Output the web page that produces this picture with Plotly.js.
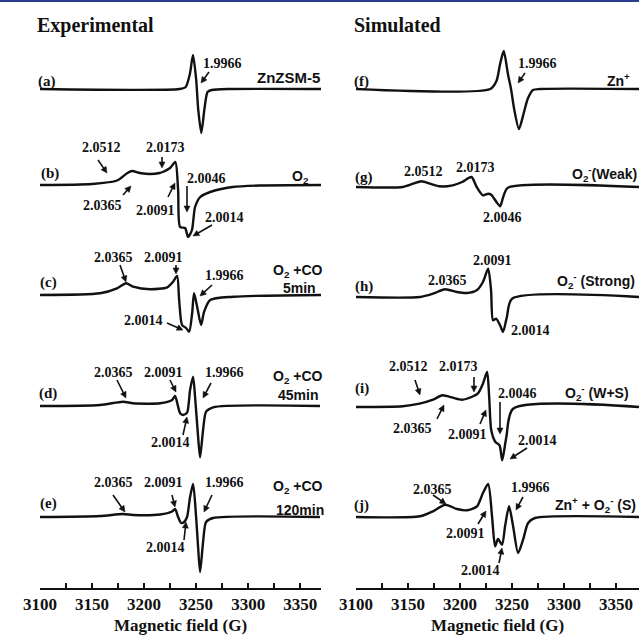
<!DOCTYPE html>
<html>
<head>
<meta charset="utf-8">
<script src="https://cdn.plot.ly/plotly-3.0.1.min.js"></script>
<style>html,body{margin:0;padding:0;background:#fff;}#chart{width:639px;height:636px;}</style>
</head>
<body>
<div id="chart"></div>
<script>
// ---- Data: magnetic field (G) and EPR intensity (arb. units, baseline = 0) ----
const fieldA = [3100,3234,3240,3244,3247,3250,3252,3255,3258,3261,3265,3283,3370];
const intA   = [0,0,2,15,34,10,-20,-44,-20,-3,-1,0,0];

const fieldB = [3100,3150,3174,3184,3188.5,3196,3206,3215,3218,3225,3230,3232.7,3234.6,3239.4,3242.3,3246,3249,3254,3263.5,3285,3311,3370];
const intB   = [0,1,4.5,12,14,12,11,12,13,17,23,-5,-42,-43,-52,-45,-22,-12,-7,-2,-0.5,0];

const fieldC = [3100,3157.7,3174,3182.7,3189.4,3205.8,3222.1,3227.9,3231.7,3233.7,3236.5,3240.4,3243.3,3246.2,3248,3251,3254.8,3257.7,3263.5,3285.6,3370];
const intC   = [0,1.7,6.7,11.7,8.3,5.7,7.7,13.3,19,-5,-30,-33,-36.7,-18,1.7,-11.7,-30,-16.7,-5,-1.7,0];

const fieldD = [3100,3157.7,3179.8,3189.4,3215.4,3226.9,3229.8,3232.7,3234.6,3237.5,3241.3,3244.2,3247.1,3249,3251.9,3253.8,3256.7,3259.6,3266.3,3369];
const intD   = [0,1,4.3,2.7,2.7,6,10,-0.7,-7.3,-9,-6.7,16,29.3,9,-30.7,-51.3,-24,-5.7,-1.3,0];

const fieldE = [3100,3157.7,3179.8,3189.4,3215.4,3226.9,3229.8,3232.7,3235.6,3238.5,3241.3,3244.2,3247.1,3250,3251.9,3253.8,3256.7,3259.6,3266.3,3369];
const intE   = [0,1,3,2,2.5,5.5,8,0,-6,-5,0,20,33,0,-30,-55,-25,-5,-1,0];

const fieldF = [3100,3229,3235,3238.5,3242,3246,3249,3252,3256.6,3261,3265,3270,3277,3372];
const intF   = [0,0,8,25,38,15,0,-20,-40,-25,-10,-1,0,0];

const fieldG = [3100,3145,3155,3163,3171,3180,3193,3202,3211,3216,3222,3227,3230,3235,3238.5,3241.5,3246,3372];
const intG   = [0,0,3.3,5.7,3.3,0.7,1.7,5,10,0,-8.3,-6.7,-7.7,-15,-19.3,-10,-0.7,0];

const fieldH = [3100,3161.5,3174,3185.6,3197,3206.7,3216,3222,3227,3229.8,3231.7,3234.6,3238.5,3241.3,3245,3250,3372];
const intH   = [0,0,3.3,7.7,5,4,6.7,15,28.3,6.7,-23.3,-21.7,-28.3,-35,-20,-1.7,0];

const fieldI = [3100,3145,3161,3174,3183,3193,3202,3211,3217,3222,3226,3228,3230,3234,3238,3240.5,3244.5,3251,3372];
const intI   = [0,0.7,3.3,7.3,11.7,9.3,7.3,10,13.3,23.3,35,10,-23.3,-35,-38.3,-53.3,-30,-1.7,0];

const fieldJ = [3100,3161.5,3174,3185.6,3197,3206.7,3216.3,3222,3227,3230.8,3233.7,3236.5,3240.4,3243.3,3247.1,3251,3255.8,3260.6,3265.4,3272,3372];
const intJ   = [0,0.7,5.7,12.3,8,6.7,10.7,24,33,0,-29.3,-22,-27.7,-9,10.7,-9.3,-36,-22.7,-6,-1,0];

const spectra = [
  {f:fieldA,v:intA},{f:fieldB,v:intB},{f:fieldC,v:intC},{f:fieldD,v:intD},{f:fieldE,v:intE},
  {f:fieldF,v:intF},{f:fieldG,v:intG},{f:fieldH,v:intH},{f:fieldI,v:intI},{f:fieldJ,v:intJ}
];

const panelTags = ['(a)','(b)','(c)','(d)','(e)','(f)','(g)','(h)','(i)','(j)'];
const sampleNames = ['ZnZSM-5','O<sub>2</sub>','O<sub>2</sub> +CO','O<sub>2</sub> +CO','O<sub>2</sub> +CO',
  'Zn<sup>+</sup>','O<sub>2</sub><sup>-</sup>(Weak)','O<sub>2</sub><sup>-</sup> (Strong)','O<sub>2</sub><sup>-</sup> (W+S)','Zn<sup>+</sup> + O<sub>2</sub><sup>-</sup> (S)'];
const times = ['5min','45min','120min'];
const columnTitles = ['Experimental','Simulated'];
const axisTitle = 'Magnetic field (G)';

// ---- Layout geometry (pixels) ----
const W = 639, H = 636;
const baselines = [89,185,295,406,517, 89,187,297,407,517];
const PX = x => x / W, PY = y => 1 - y / H;

const serifB = {family:'Liberation Serif, Times New Roman, serif', weight:'bold', color:'#111'};
const sansB = {family:'Liberation Sans, Arial, sans-serif', weight:'bold', color:'#111'};

const traces = spectra.map((s, i) => ({
  x: s.f, y: s.v, type:'scatter', mode:'lines',
  xaxis: i < 5 ? 'x' : 'x2', yaxis: i === 0 ? 'y' : 'y' + (i + 1),
  line:{color:'#111', width:2.4, shape:'spline', smoothing:0.7},
  hoverinfo:'skip', showlegend:false
}));

const layout = {
  width: W, height: H, margin:{l:0,r:0,t:0,b:0},
  paper_bgcolor:'#fff', plot_bgcolor:'rgba(0,0,0,0)', showlegend:false,
  annotations: [], shapes: [
    {type:'line', xref:'paper', yref:'paper', x0:0, x1:1, y0:PY(1), y1:PY(1), line:{color:'#2b3d8f', width:2}}
  ]
};

const xaxisBase = {
  anchor:'free', position: PY(589), showline:true, linecolor:'#111', linewidth:2,
  ticks:'inside', ticklen:5, tickwidth:2, tickcolor:'#111', tick0:3100, dtick:50,
  minor:{dtick:25, ticks:'inside', ticklen:5, tickwidth:2, tickcolor:'#111'},
  showgrid:false, zeroline:false, fixedrange:true,
  tickfont:Object.assign({size:17}, serifB),
  title:{text:axisTitle, font:Object.assign({size:17}, serifB), standoff:5}
};
layout.xaxis = Object.assign({}, xaxisBase, {domain:[PX(40), PX(321)], range:[3100, 3370]});
layout.xaxis2 = Object.assign({}, xaxisBase, {domain:[PX(356), 1], range:[3100, 3372]});

baselines.forEach((b, i) => {
  const key = i === 0 ? 'yaxis' : 'yaxis' + (i + 1);
  layout[key] = {domain:[PY(b + 60), PY(b - 60)], range:[-60, 60], visible:false, fixedrange:true,
                 anchor: i < 5 ? 'x' : 'x2'};
});

function label(text, cx, cy, font, size, anchor) {
  layout.annotations.push({text, xref:'paper', yref:'paper', x:PX(cx), y:PY(cy),
    xanchor: anchor || 'center', yanchor:'middle', showarrow:false,
    font:Object.assign({size}, font)});
}
// arrow drawn as a line + filled triangular head (paper coordinates)
function arrow(tx, ty, hx, hy) {
  const dx = hx - tx, dy = hy - ty, L = Math.hypot(dx, dy) || 1;
  const ux = dx / L, uy = dy / L, hl = 6, hw = 3;
  const bx = hx - ux * hl, by = hy - uy * hl;
  layout.shapes.push({type:'line', xref:'paper', yref:'paper',
    x0:PX(tx), y0:PY(ty), x1:PX(bx + ux), y1:PY(by + uy), line:{color:'#111', width:1.6}});
  const p1 = [bx - uy * hw, by + ux * hw], p2 = [bx + uy * hw, by - ux * hw];
  layout.shapes.push({type:'path', xref:'paper', yref:'paper',
    path:`M${PX(hx)},${PY(hy)} L${PX(p1[0])},${PY(p1[1])} L${PX(p2[0])},${PY(p2[1])} Z`,
    fillcolor:'#111', line:{color:'#111', width:0.5}});
}

// column titles
label(columnTitles[0], 35, 25, serifB, 20, 'left');
label(columnTitles[1], 352, 25, serifB, 20, 'left');

// panel tags
const tagLayout = [[47,82],[50,173],[48,282],[48,393],[48,503],[361,82],[364,177],[364,286],[362,388],[361,505]];
panelTags.forEach((t, i) => label(t, tagLayout[i][0], tagLayout[i][1], serifB, 15));

// sample names
const nameLayout = [[288,77],[300,177],[298,271],[298,377],[298,487],[618,80],[604,174],[596,281],[597,393],[595,505]];
sampleNames.forEach((t, i) => label(t, nameLayout[i][0], nameLayout[i][1], sansB, i === 0 ? 15 : 14));
const timeLayout = [[299,288],[298,395],[300,510]];
times.forEach((t, i) => label(t, timeLayout[i][0], timeLayout[i][1], sansB, 14));

// g-value labels and arrows
const gLabels = [
  ['1.9966',222,63],
  ['2.0512',101,148],['2.0173',166,147],['2.0365',102,205],['2.0091',155,210],['2.0046',206,178],['2.0014',225,217],
  ['2.0365',113,257],['2.0091',163,257],['1.9966',225,275],['2.0014',143,320],
  ['2.0365',113,372],['2.0091',163,372],['1.9966',225,372],['2.0014',170,442],
  ['2.0365',113,482],['2.0091',163,482],['1.9966',225,482],['2.0014',165,547],
  ['1.9966',537,63],
  ['2.0512',423,172],['2.0173',475,168],['2.0046',502,217],
  ['2.0091',492,260],['2.0365',447,280],['2.0014',530,330],
  ['2.0512',408,366],['2.0173',458,366],['2.0365',412,428],['2.0091',467,434],['2.0046',517,393],['2.0014',537,440],
  ['2.0365',432,489],['1.9966',530,487],['2.0091',465,533],['2.0014',480,570]
];
gLabels.forEach(g => label(g[0], g[1], g[2], serifB, 14));

const arrows = [
  [209,72,201,83],
  [98,160,107,173],[162,157,162,168],[123,195,131,186],[168,197,175,183],[187,186,187,212],[212,225,193,236],
  [120,265,126,282],[176,265,176,274],[212,285,200,296],[167,323,183,330],
  [117,380,126,398],[170,380,176,392],[211,383,203,398],[183,435,187,417],
  [113,495,125,512],[172,495,175,507],[212,495,204,512],[184,540,186,522],
  [525,73,518,83],
  [415,380,420,395],[474,377,474,392],[437,419,444,405],[480,424,486,410],[500,402,500,434],[527,448,510,459],
  [433,495,446,504],[523,497,516,510],[478,524,486,511],[499,563,502,548]
];
arrows.forEach(a => arrow(a[0], a[1], a[2], a[3]));

Plotly.newPlot('chart', traces, layout, {displayModeBar:false, staticPlot:true});
</script>
</body>
</html>
